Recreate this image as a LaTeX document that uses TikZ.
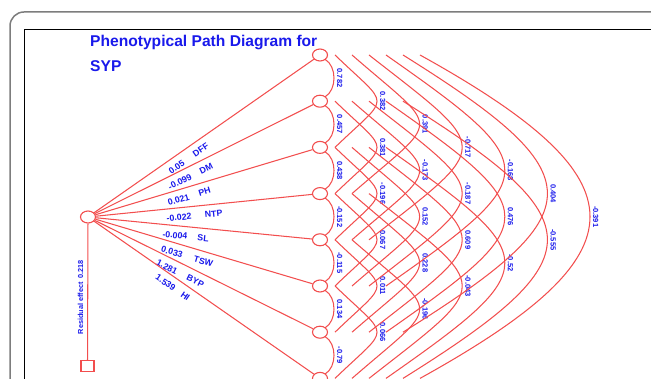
\documentclass[tikz,border=0pt]{standalone}
\usepackage{fontspec}
\setmainfont{Liberation Sans}
\usetikzlibrary{shapes.geometric}
\definecolor{pathred}{RGB}{242,78,78}
\definecolor{pathblue}{RGB}{25,25,235}
\definecolor{framegray}{RGB}{125,125,125}
\begin{document}
\begin{tikzpicture}[x=1pt, y=1pt,
  trait/.style={ellipse, draw=pathred, line width=1.1pt, fill=white, minimum width=15pt, minimum height=12pt, inner sep=0pt},
  resid/.style={rectangle, draw=pathred, line width=1.1pt, minimum width=13pt, minimum height=11pt, inner sep=0pt},
  link/.style={draw=pathred, line width=1.05pt},
  coef/.style={text=pathblue, font=\fontsize{8.8}{10}\selectfont\bfseries, inner sep=0pt, sloped, below=6pt},
  corr/.style={text=pathblue, font=\fontsize{7.5}{8}\selectfont\bfseries, inner sep=2.5pt, anchor=south, rotate=-90}]
  \useasboundingbox (0,0) rectangle (651,379);
  \clip (0,0) rectangle (651,379);
  \draw[framegray, line width=1.5pt, rounded corners=14pt] (10,367) rectangle (720,-60);
  \draw[line width=0.8pt] (24,349.5) rectangle (700,-40);
  \node[text=pathblue, font=\fontsize{15.6}{18}\selectfont\bfseries, inner sep=0pt, anchor=base west] (title) at (90,332.3) {Phenotypical Path Diagram for};
  \node[text=pathblue, font=\fontsize{15.6}{18}\selectfont\bfseries, inner sep=0pt, anchor=base west] (title2) at ([yshift=-25pt]title.base west) {SYP};
  \node[trait] (hub) at (88,162) {};
  \foreach \k in {1,...,8}
    \node[trait] (n\k) at (320,{324-46.2*(\k-1)}) {};
  \node[resid] (res) at (87.5,13) {};
  \draw[link] (hub) -- (res) node[pos=0.54, anchor=south, rotate=90, text=pathblue, font=\fontsize{7.3}{8}\selectfont\bfseries, inner sep=4pt] {Residual effect\enspace 0.218};
  \foreach \k/\val/\vpos/\name/\npos in {1/0.05/0.35/DFF/0.46, 2/-0.099/0.37/DM/0.49, 3/0.021/0.37/PH/0.49, 4/-0.022/0.38/NTP/0.54, 5/-0.004/0.37/SL/0.50, 6/0.033/0.365/TSW/0.51, 7/1.281/0.35/BYP/0.48, 8/1.539/0.35/HI/0.44}
    \draw[link] (hub) -- (n\k) node[coef, pos=\vpos] {\val} node[coef, pos=\npos] {\name};
  \foreach \i/\j/\r in {1/2/0.782, 2/3/0.457, 3/4/0.438, 4/5/-0.152, 5/6/-0.115, 6/7/0.134, 7/8/-0.79,
      1/3/0.382, 2/4/0.381, 3/5/-0.196, 4/6/0.067, 5/7/0.011, 6/8/0.066,
      1/4/0.391, 2/5/-0.173, 3/6/0.152, 4/7/0.228, 5/8/-0.196,
      1/5/-0.717, 2/6/-0.187, 3/7/0.609, 4/8/-0.043,
      1/6/-0.168, 2/7/0.476, 3/8/-0.52,
      1/7/0.404, 2/8/-0.555,
      1/8/-0.391}{
    \pgfmathtruncatemacro\g{\j-\i}
    \pgfmathsetmacro\sx{\g==1 ? 5 : 17*\g-19}
    \pgfmathsetmacro\sy{\g==1 ? 4.3 : 0}
    \pgfmathsetmacro\bulge{\g==1 ? 9 : 25.6*\g-9.2}
    \pgfmathsetmacro\ang{\g==1 ? 30 : 50-3*\g}
    \pgfmathsetmacro\len{\bulge/(0.75*cos(\ang))}
    \draw[link] ([xshift=\sx pt, yshift=-\sy pt]n\i.center) .. controls +(-\ang:\len pt) and +(\ang:\len pt) .. ([xshift=\sx pt, yshift=\sy pt]n\j.center) node[corr, pos=0.5] {\r};
  }
\end{tikzpicture}
\end{document}
